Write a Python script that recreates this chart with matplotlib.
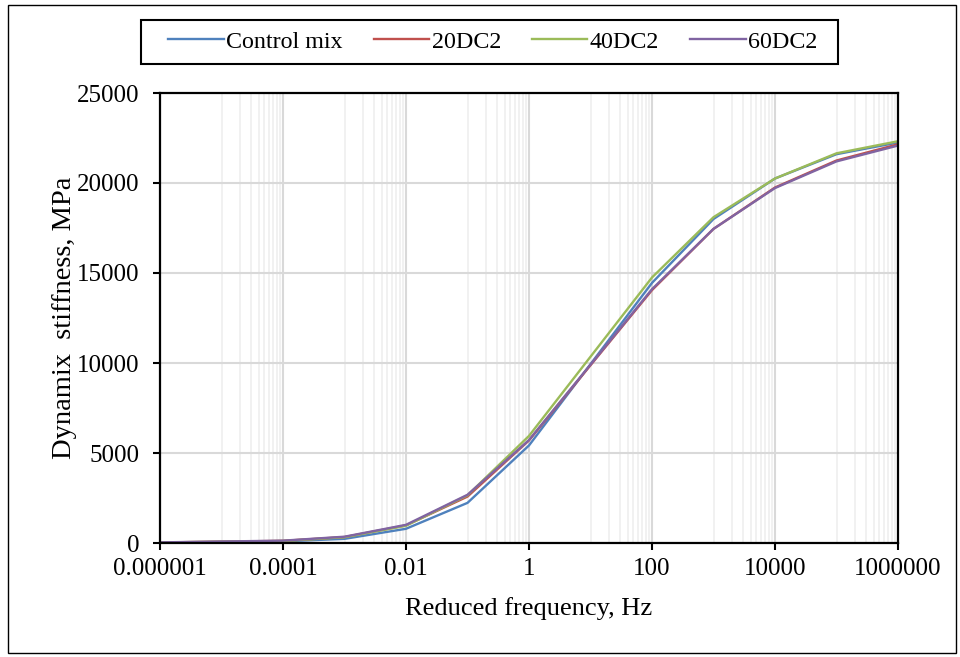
import matplotlib
matplotlib.use("Agg")
import matplotlib.pyplot as plt
from matplotlib.patches import Rectangle
from matplotlib.ticker import FixedLocator, NullFormatter

plt.rcParams['font.family'] = ['Liberation Serif', 'DejaVu Serif']

# Reduced frequency (Hz) and dynamic stiffness (MPa) of each mix
freq = [1e-6, 1e-4, 1e-3, 1e-2, 1e-1, 1, 100, 1e3, 1e4, 1e5, 1e6]
control_mix = [20, 90, 230, 790, 2230, 5420, 14450, 18000, 20250, 21600, 22250]
dc20 = [30, 120, 330, 980, 2580, 5700, 14050, 17450, 19750, 21250, 22150]
dc40 = [30, 110, 320, 960, 2650, 5950, 14750, 18100, 20250, 21650, 22320]
dc60 = [35, 130, 350, 1010, 2680, 5720, 14100, 17450, 19720, 21200, 22080]

series_names = ['Control mix', '20DC2', '40DC2', '60DC2']
series_values = [control_mix, dc20, dc40, dc60]
colors = ['#4F81BD', '#C0504D', '#9BBB59', '#8064A2']

x_major = [1e-6, 1e-4, 1e-2, 1, 100, 1e4, 1e6]
x_labels = ['0.000001', '0.0001', '0.01', '1', '100', '10000', '1000000']
y_ticks = [0, 5000, 10000, 15000, 20000, 25000]
y_labels = ['0', '5000', '10000', '15000', '20000', '25000']

W, H = 960, 657
fig = plt.figure(figsize=(W / 100, H / 100), dpi=100)

# outer border around the whole figure
fig.patches.append(Rectangle((8 / W, 4 / H), 948 / W, 648 / H, transform=fig.transFigure,
                             fill=False, edgecolor='black', linewidth=1.0))
# legend frame
fig.patches.append(Rectangle((141 / W, 1 - 64 / H), 697 / W, 44 / H, transform=fig.transFigure,
                             fill=False, edgecolor='black', linewidth=1.5))

ax = fig.add_axes([160 / W, 1 - 543 / H, 738 / W, 450 / H])
ax.set_xscale('log')
ax.set_xlim(1e-6, 1e6)
ax.set_ylim(0, 25000)

# minor gridlines at 1..9 x 10^(odd exponent)
minor = []
for e in range(-5, 6, 2):
    for k in range(1, 10):
        minor.append(k * 10.0 ** e)
ax.xaxis.set_major_locator(FixedLocator(x_major))
ax.set_xticklabels(x_labels)
ax.xaxis.set_minor_locator(FixedLocator(minor))
ax.xaxis.set_minor_formatter(NullFormatter())
ax.set_yticks(y_ticks)
ax.set_yticklabels(y_labels)

ax.grid(True, which='major', axis='both', color='#d9d9d9', linewidth=1.5)
ax.grid(True, which='minor', axis='x', color='#efefef', linewidth=1.2)
ax.set_axisbelow(True)

for name, vals, c in zip(series_names, series_values, colors):
    ax.plot(freq, vals, color=c, linewidth=1.7, label=name, solid_joinstyle='round')

for s in ax.spines.values():
    s.set_linewidth(1.6)
    s.set_color('black')

ax.tick_params(axis='both', which='major', direction='out', length=5, width=1.5,
               labelsize=18, colors='black')
ax.tick_params(axis='y', pad=10)
ax.tick_params(axis='x', pad=6)
ax.tick_params(axis='x', which='minor', length=0)

ax.set_xlabel('Reduced frequency, Hz', fontsize=19, labelpad=12)
ax.set_ylabel('Dynamix  stiffness, MPa', fontsize=20.5, labelpad=0)

leg = fig.legend(loc='center', bbox_to_anchor=(493 / W, 1 - 42 / H), ncol=4,
                 fontsize=17.3, frameon=False, handlelength=2.3,
                 handletextpad=0.1, columnspacing=1.3, borderpad=0.3,
                 borderaxespad=0)

fig.savefig('out.png', dpi=100)
